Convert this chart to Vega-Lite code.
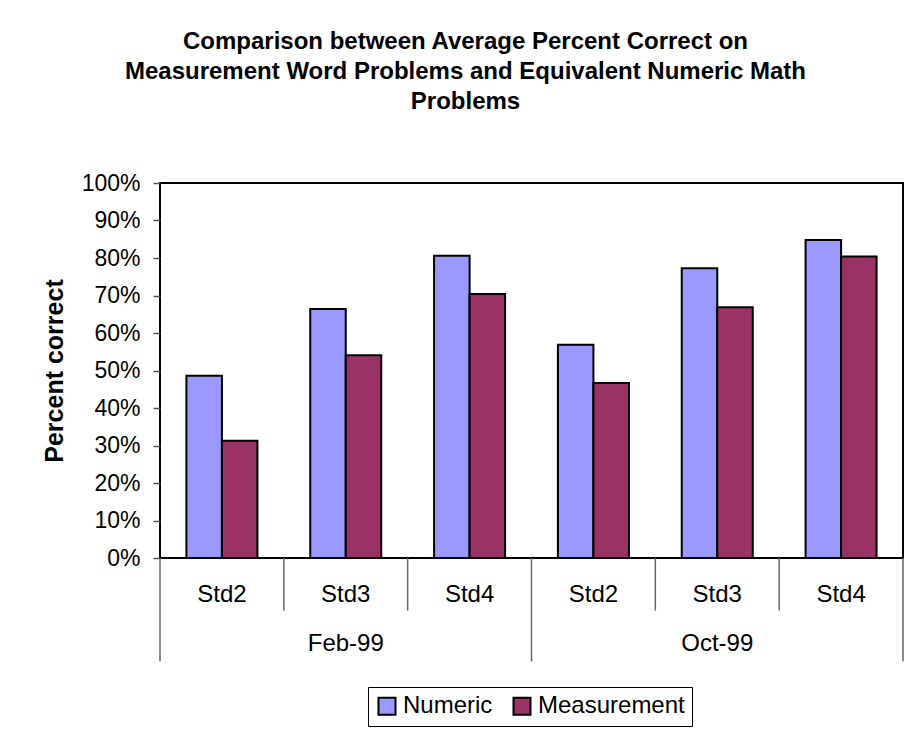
{
  "$schema": "https://vega.github.io/schema/vega-lite/v6.json",
  "autosize": {"type": "none"},
  "width": 743,
  "height": 375,
  "padding": {"left": 160, "top": 183, "right": 8, "bottom": 174},
  "background": "white",
  "title": {
    "text": ["Comparison between Average Percent Correct on", "Measurement Word Problems and Equivalent Numeric Math", "Problems"],
    "font": "Liberation Sans",
    "fontSize": 24,
    "fontWeight": "bold",
    "lineHeight": 30,
    "anchor": "middle",
    "dx": -66,
    "offset": 58,
    "color": "black"
  },
  "datasets": {
    "bars": [
      {"cat": "Feb-99 Std2", "period": "Feb-99", "std": "Std2", "series": "Numeric", "value": 0.486},
      {"cat": "Feb-99 Std2", "period": "Feb-99", "std": "Std2", "series": "Measurement", "value": 0.313},
      {"cat": "Feb-99 Std3", "period": "Feb-99", "std": "Std3", "series": "Numeric", "value": 0.664},
      {"cat": "Feb-99 Std3", "period": "Feb-99", "std": "Std3", "series": "Measurement", "value": 0.541},
      {"cat": "Feb-99 Std4", "period": "Feb-99", "std": "Std4", "series": "Numeric", "value": 0.806},
      {"cat": "Feb-99 Std4", "period": "Feb-99", "std": "Std4", "series": "Measurement", "value": 0.704},
      {"cat": "Oct-99 Std2", "period": "Oct-99", "std": "Std2", "series": "Numeric", "value": 0.569},
      {"cat": "Oct-99 Std2", "period": "Oct-99", "std": "Std2", "series": "Measurement", "value": 0.467},
      {"cat": "Oct-99 Std3", "period": "Oct-99", "std": "Std3", "series": "Numeric", "value": 0.773},
      {"cat": "Oct-99 Std3", "period": "Oct-99", "std": "Std3", "series": "Measurement", "value": 0.669},
      {"cat": "Oct-99 Std4", "period": "Oct-99", "std": "Std4", "series": "Numeric", "value": 0.848},
      {"cat": "Oct-99 Std4", "period": "Oct-99", "std": "Std4", "series": "Measurement", "value": 0.804}
    ],
    "innerSeps": [
      {"cat": "Feb-99 Std3"}, {"cat": "Feb-99 Std4"}, {"cat": "Oct-99 Std3"}, {"cat": "Oct-99 Std4"}
    ],
    "outerSeps": [
      {"cat": "Feb-99 Std2"}, {"cat": "Oct-99 Std2"}
    ],
    "outerEnd": [
      {"cat": "Oct-99 Std4"}
    ],
    "periods": [
      {"cat": "Feb-99 Std3", "period": "Feb-99"},
      {"cat": "Oct-99 Std3", "period": "Oct-99"}
    ]
  },
  "layer": [
    {
      "data": {"name": "bars"},
      "mark": {"type": "bar", "stroke": "black", "strokeWidth": 2},
      "encoding": {
        "x": {
          "field": "cat",
          "type": "nominal",
          "scale": {
            "domain": ["Feb-99 Std2", "Feb-99 Std3", "Feb-99 Std4", "Oct-99 Std2", "Oct-99 Std3", "Oct-99 Std4"],
            "paddingInner": 0,
            "paddingOuter": 0
          },
          "axis": {
            "title": null,
            "labelExpr": "split(datum.label, ' ')[1]"
          }
        },
        "xOffset": {
          "field": "series",
          "type": "nominal",
          "sort": ["Numeric", "Measurement"],
          "scale": {"domain": ["Numeric", "Measurement"], "paddingInner": 0, "paddingOuter": 0.744}
        },
        "y": {
          "field": "value",
          "type": "quantitative",
          "scale": {"domain": [0, 1], "nice": false},
          "axis": {
            "title": "Percent correct",
            "values": [0, 0.1, 0.2, 0.3, 0.4, 0.5, 0.6, 0.7, 0.8, 0.9, 1],
            "format": ".0%"
          }
        },
        "color": {
          "field": "series",
          "type": "nominal",
          "scale": {"domain": ["Numeric", "Measurement"], "range": ["#9999FF", "#993366"]},
          "legend": {
            "title": null,
            "orient": "none",
            "legendX": 208,
            "legendY": 504,
            "direction": "horizontal",
            "symbolType": "square",
            "symbolSize": 289,
            "symbolStrokeColor": "black",
            "symbolStrokeWidth": 2,
            "symbolOpacity": 1,
            "labelFont": "Liberation Sans",
            "labelFontSize": 24,
            "labelColor": "black",
            "labelOffset": 4,
            "columnPadding": 16,
            "strokeColor": "black",
            "padding": 7
          }
        }
      }
    },
    {
      "data": {"name": "innerSeps"},
      "mark": {"type": "rule", "color": "#666666", "strokeWidth": 1.5},
      "encoding": {
        "x": {"field": "cat", "type": "nominal", "bandPosition": 0},
        "y": {"datum": 0, "type": "quantitative", "axis": {"title": "Percent correct", "values": [0, 0.1, 0.2, 0.3, 0.4, 0.5, 0.6, 0.7, 0.8, 0.9, 1], "format": ".0%"}},
        "y2": {"datum": -0.14}
      }
    },
    {
      "data": {"name": "outerSeps"},
      "mark": {"type": "rule", "color": "#666666", "strokeWidth": 1.5},
      "encoding": {
        "x": {"field": "cat", "type": "nominal", "bandPosition": 0},
        "y": {"datum": 0, "type": "quantitative", "axis": {"title": "Percent correct", "values": [0, 0.1, 0.2, 0.3, 0.4, 0.5, 0.6, 0.7, 0.8, 0.9, 1], "format": ".0%"}},
        "y2": {"datum": -0.2756}
      }
    },
    {
      "data": {"name": "outerEnd"},
      "mark": {"type": "rule", "color": "#666666", "strokeWidth": 1.5},
      "encoding": {
        "x": {"field": "cat", "type": "nominal", "bandPosition": 1},
        "y": {"datum": 0, "type": "quantitative", "axis": {"title": "Percent correct", "values": [0, 0.1, 0.2, 0.3, 0.4, 0.5, 0.6, 0.7, 0.8, 0.9, 1], "format": ".0%"}},
        "y2": {"datum": -0.2756}
      }
    },
    {
      "data": {"name": "periods"},
      "mark": {"type": "text", "font": "Liberation Sans", "fontSize": 24, "color": "black", "baseline": "middle"},
      "encoding": {
        "x": {"field": "cat", "type": "nominal"},
        "y": {"datum": -0.23, "type": "quantitative", "axis": {"title": "Percent correct", "values": [0, 0.1, 0.2, 0.3, 0.4, 0.5, 0.6, 0.7, 0.8, 0.9, 1], "format": ".0%"}},
        "text": {"field": "period"}
      }
    }
  ],
  "config": {
    "view": {"stroke": "black", "strokeWidth": 2},
    "axisX": {
      "labelAngle": 0,
      "labelFont": "Liberation Sans",
      "labelFontSize": 24,
      "labelColor": "black",
      "labelPadding": 24,
      "ticks": false,
      "domain": false,
      "grid": false
    },
    "axisY": {
      "titleFont": "Liberation Sans",
      "titleFontSize": 25,
      "titleFontWeight": "bold",
      "titleColor": "black",
      "titlePadding": 14,
      "labelFont": "Liberation Sans",
      "labelFontSize": 23,
      "labelColor": "black",
      "labelPadding": 13,
      "labelOverlap": false,
      "labelFlush": false,
      "tickSize": 7,
      "tickColor": "#555555",
      "tickWidth": 1.5,
      "grid": false,
      "domain": false
    }
  }
}
